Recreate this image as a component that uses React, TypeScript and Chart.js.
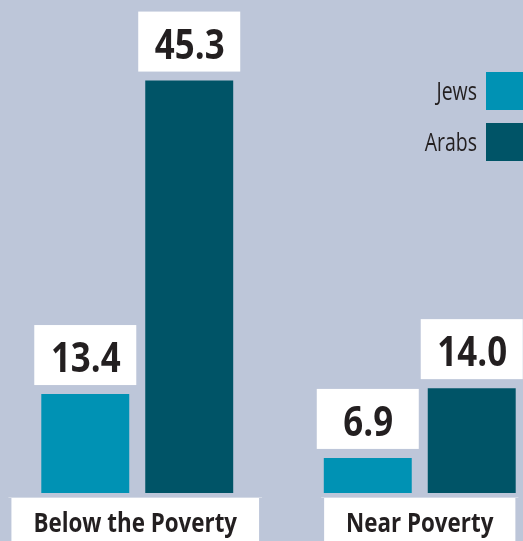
import React, { useEffect, useRef } from "react";
import { Chart, registerables } from "chart.js";

Chart.register(...registerables);

const categories = ["Below the Poverty", "Near Poverty"];
const seriesNames = ["Jews", "Arabs"];
const jewsValues = [13.4, 6.9];
const arabsValues = [45.3, 14.0];

const BG = "#bdc6d9";
const JEWS_COLOR = "#0092b4";
const ARABS_COLOR = "#005467";
const TEXT = "#231f20";
const SHIFT = 4; // canvas is shifted left by this many px

function scaledText(ctx: CanvasRenderingContext2D, text: string, x: number, y: number, sx: number, align: CanvasTextAlign) {
  ctx.save();
  ctx.translate(x, y);
  ctx.scale(sx, 1);
  ctx.textAlign = align;
  ctx.textBaseline = "alphabetic";
  ctx.fillText(text, 0, 0);
  ctx.restore();
}

const decorPlugin = {
  id: "decor",
  beforeDraw(chart: any) {
    const ctx = chart.ctx;
    ctx.save();
    ctx.fillStyle = BG;
    ctx.fillRect(0, 0, chart.width, chart.height);
    ctx.restore();
  },
  afterDatasetsDraw(chart: any) {
    const ctx: CanvasRenderingContext2D = chart.ctx;
    ctx.save();
    // value labels
    chart.data.datasets.forEach((ds: any, di: number) => {
      const meta = chart.getDatasetMeta(di);
      meta.data.forEach((bar: any, i: number) => {
        const v = ds.data[i] as number;
        const bw = 102, bh = 60;
        const bottom = bar.y - 9;
        const top = bottom - bh;
        ctx.fillStyle = "#ffffff";
        ctx.fillRect(bar.x - bw / 2, top, bw, bh);
        ctx.fillStyle = TEXT;
        ctx.font = "bold 42px 'Open Sans'";
        scaledText(ctx, v.toFixed(1), bar.x + 0.5, top + 47, 0.83, "center");
      });
    });
    // category labels
    const xs = chart.scales.x;
    categories.forEach((c, i) => {
      const cx = xs.getPixelForValue(i) - (i === 0 ? 2 : 0);
      ctx.font = "bold 26px 'Open Sans'";
      const sx = 0.86;
      const tw = ctx.measureText(c).width * sx;
      const bw = tw + 44;
      const top = 498;
      ctx.fillStyle = "rgba(255,255,255,0.35)";
      ctx.fillRect(cx - bw / 2 - 3, top - 1, bw + 6, 1);
      ctx.fillStyle = "#ffffff";
      ctx.fillRect(cx - bw / 2, top, bw, chart.height - top);
      ctx.fillStyle = TEXT;
      scaledText(ctx, c, cx, 532, sx, "center");
    });
    // legend
    chart.data.datasets.forEach((ds: any, di: number) => {
      const sqX = 486 + SHIFT;
      const sqY = 72 + di * 51;
      ctx.fillStyle = ds.backgroundColor;
      ctx.fillRect(sqX, sqY, 40, 38);
      ctx.fillStyle = TEXT;
      ctx.font = "26px 'Open Sans'";
      scaledText(ctx, ds.label, 477 + SHIFT, sqY + 28, 0.75, "right");
    });
    ctx.restore();
  },
};

export default function App() {
  const ref = useRef<HTMLCanvasElement | null>(null);
  useEffect(() => {
    if (!ref.current) return;
    const chart = new Chart(ref.current, {
      type: "bar",
      data: {
        labels: categories,
        datasets: [
          { label: seriesNames[0], data: jewsValues, backgroundColor: JEWS_COLOR, categoryPercentage: 0.736, barPercentage: 0.846 },
          { label: seriesNames[1], data: arabsValues, backgroundColor: ARABS_COLOR, categoryPercentage: 0.736, barPercentage: 0.846 },
        ],
      },
      options: {
        responsive: false,
        animation: false,
        devicePixelRatio: 1,
        layout: { padding: { left: 0, right: 0, top: 0, bottom: 48 } },
        plugins: { legend: { display: false }, tooltip: { enabled: false } },
        scales: {
          x: { display: false, grid: { display: false } },
          y: { display: false, min: 3.33, max: 53.5, grid: { display: false } },
        },
      },
      plugins: [decorPlugin],
    });
    return () => chart.destroy();
  }, []);
  return (
    <div style={{ position: "fixed", left: 0, top: 0, width: 523, height: 541, overflow: "hidden", background: BG }}>
      <canvas ref={ref} width={565} height={541} style={{ position: "absolute", left: -SHIFT, top: 0, width: 565, height: 541 }} />
    </div>
  );
}
